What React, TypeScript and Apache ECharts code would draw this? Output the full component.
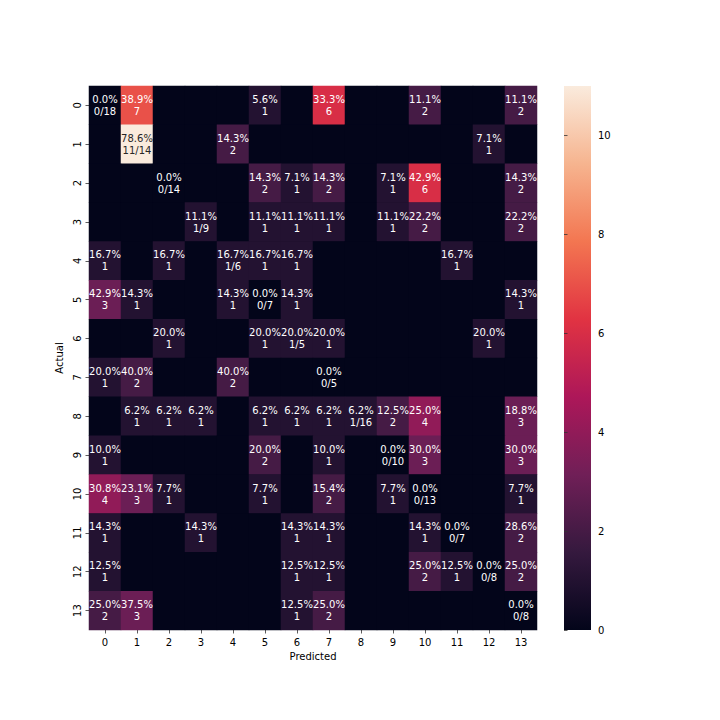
import React, { useEffect, useRef } from "react";
import * as echarts from "echarts";

const classes = ["0", "1", "2", "3", "4", "5", "6", "7", "8", "9", "10", "11", "12", "13"];

// counts[actual][predicted]
const row0 = [0, 7, 0, 0, 0, 1, 0, 6, 0, 0, 2, 0, 0, 2];
const row1 = [0, 11, 0, 0, 2, 0, 0, 0, 0, 0, 0, 0, 1, 0];
const row2 = [0, 0, 0, 0, 0, 2, 1, 2, 0, 1, 6, 0, 0, 2];
const row3 = [0, 0, 0, 1, 0, 1, 1, 1, 0, 1, 2, 0, 0, 2];
const row4 = [1, 0, 1, 0, 1, 1, 1, 0, 0, 0, 0, 1, 0, 0];
const row5 = [3, 1, 0, 0, 1, 0, 1, 0, 0, 0, 0, 0, 0, 1];
const row6 = [0, 0, 1, 0, 0, 1, 1, 1, 0, 0, 0, 0, 1, 0];
const row7 = [1, 2, 0, 0, 2, 0, 0, 0, 0, 0, 0, 0, 0, 0];
const row8 = [0, 1, 1, 1, 0, 1, 1, 1, 1, 2, 4, 0, 0, 3];
const row9 = [1, 0, 0, 0, 0, 2, 0, 1, 0, 0, 3, 0, 0, 3];
const row10 = [4, 3, 1, 0, 0, 1, 0, 2, 0, 1, 0, 0, 0, 1];
const row11 = [1, 0, 0, 1, 0, 0, 1, 1, 0, 0, 1, 0, 0, 2];
const row12 = [1, 0, 0, 0, 0, 0, 1, 1, 0, 0, 2, 1, 0, 2];
const row13 = [2, 3, 0, 0, 0, 0, 1, 2, 0, 0, 0, 0, 0, 0];
const counts = [row0, row1, row2, row3, row4, row5, row6, row7, row8, row9, row10, row11, row12, row13];

const colorbarTicks = [0, 2, 4, 6, 8, 10];
const colorMax = 11;

const rocket = ["#03051A", "#35193E", "#701F57", "#AD1759", "#E13342", "#F37651", "#F6B48F", "#FAEBDD"];

function hexToRgb(h: string) {
  return [parseInt(h.slice(1, 3), 16), parseInt(h.slice(3, 5), 16), parseInt(h.slice(5, 7), 16)];
}
function colorAt(t: number) {
  const n = rocket.length - 1;
  const p = Math.max(0, Math.min(1, t)) * n;
  const i = Math.min(n - 1, Math.floor(p));
  const f = p - i;
  const a = hexToRgb(rocket[i]);
  const b = hexToRgb(rocket[i + 1]);
  return a.map((c, k) => c + (b[k] - c) * f);
}
function luminance(rgb: number[]) {
  const lin = rgb.map((c) => {
    const s = c / 255;
    return s <= 0.03928 ? s / 12.92 : Math.pow((s + 0.055) / 1.055, 2.4);
  });
  return 0.2126 * lin[0] + 0.7152 * lin[1] + 0.0722 * lin[2];
}
// Python-like formatting (round half to even on exact halves)
function fmt1(x: number) {
  const r = x * 10;
  const fl = Math.floor(r);
  let v: number;
  if (Math.abs(r - fl - 0.5) < 1e-9) v = fl % 2 === 0 ? fl : fl + 1;
  else v = Math.round(r);
  return (v / 10).toFixed(1);
}

const FONT = "DejaVu Sans";

export default function App() {
  const ref = useRef<HTMLDivElement>(null);
  useEffect(() => {
    document.body.style.margin = "0";
    if (!ref.current) return;
    const chart = echarts.init(ref.current, null, { renderer: "svg" });

    const data: any[] = [];
    counts.forEach((row, r) => {
      const total = row.reduce((s, v) => s + v, 0);
      row.forEach((v, c) => {
        const pct = fmt1((v / total) * 100) + "%";
        let text = "";
        if (r === c) text = `${pct}\n${v}/${total}`;
        else if (v > 0) text = `${pct}\n${v}`;
        const lum = luminance(colorAt(v / colorMax));
        data.push({
          value: [c, r, v],
          label: {
            show: text !== "",
            formatter: text,
            color: lum > 0.408 ? "#262626" : "#ffffff",
          },
        });
      });
    });

    const tickStyle = { show: true, length: 3.5, lineStyle: { color: "#333", width: 0.8 } };

    chart.setOption({
      animation: false,
      textStyle: { fontFamily: FONT },
      grid: [
        { left: 89, top: 86, width: 448, height: 544, show: true, backgroundColor: rocket[0], borderWidth: 0 },
        { left: 564, top: 86, width: 27, height: 544 },
      ],
      xAxis: [
        {
          type: "category",
          data: classes,
          gridIndex: 0,
          name: "Predicted",
          nameLocation: "middle",
          nameGap: 21,
          nameTextStyle: { fontSize: 10, color: "#000", fontFamily: FONT },
          axisLine: { show: false },
          axisTick: { ...tickStyle, alignWithLabel: true, interval: 0 },
          axisLabel: { interval: 0, fontSize: 10, color: "#000", margin: 7, fontFamily: FONT },
          splitLine: { show: false },
        },
        { type: "value", gridIndex: 1, show: false, min: 0, max: 1 },
      ],
      yAxis: [
        {
          type: "category",
          data: classes,
          gridIndex: 0,
          inverse: true,
          name: "Actual",
          nameLocation: "middle",
          nameGap: 24,
          nameRotate: 90,
          nameTextStyle: { fontSize: 10, color: "#000", fontFamily: FONT },
          axisLine: { show: false },
          axisTick: { ...tickStyle, alignWithLabel: true, interval: 0 },
          axisLabel: { interval: 0, rotate: 90, fontSize: 10, color: "#000", margin: 7, fontFamily: FONT },
          splitLine: { show: false },
        },
        {
          type: "value",
          gridIndex: 1,
          position: "right",
          min: 0,
          max: colorMax,
          axisLine: { show: false },
          axisTick: { ...tickStyle, customValues: colorbarTicks },
          axisLabel: { fontSize: 10, color: "#000", margin: 7, fontFamily: FONT, customValues: colorbarTicks },
          splitLine: { show: false },
        },
      ],
      visualMap: {
        show: false,
        type: "continuous",
        min: 0,
        max: colorMax,
        dimension: 2,
        seriesIndex: 0,
        inRange: { color: rocket },
      },
      graphic: [
        {
          type: "rect",
          left: 564,
          top: 86,
          shape: { width: 27, height: 544 },
          style: {
            fill: new echarts.graphic.LinearGradient(
              0, 1, 0, 0,
              rocket.map((c, i) => ({ offset: i / (rocket.length - 1), color: c }))
            ),
          },
          z: -1,
        },
      ],
      series: [
        {
          type: "heatmap",
          xAxisIndex: 0,
          yAxisIndex: 0,
          data,
          label: {
            show: true,
            fontSize: 10,
            fontFamily: FONT,
            lineHeight: 12,
          },
          emphasis: { disabled: true },
        },
        {
          type: "scatter",
          xAxisIndex: 1,
          yAxisIndex: 1,
          data: [],
        },
      ],
    });
    return () => chart.dispose();
  }, []);
  return <div ref={ref} style={{ width: 720, height: 720 }} />;
}
